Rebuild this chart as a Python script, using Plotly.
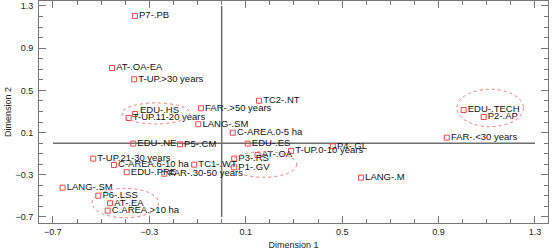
import plotly.graph_objects as go

labels = ["P7-.PB", "AT-.OA-EA", "T-UP.>30 years", "EDU-.HS", "T-UP.11-20 years",
          "FAR-.>50 years", "TC2-.NT", "LANG-.SM", "C-AREA.0-5 ha", "EDU-.NE",
          "P5-.CM", "EDU-.ES", "AT-.OA", "P3-.RS", "P1-.GV",
          "T-UP.0-10 years", "P4-.GL", "LANG-.M", "TC1-.WT", "FAR-.30-50 years",
          "EDU-.PRE", "T-UP.21-30 years", "C-AREA.6-10 ha", "LANG-.SM", "P6-.LSS",
          "AT-.EA", "C.AREA.>10 ha", "EDU-.TECH", "P2-.AP", "FAR-.<30 years"]
dim1 = [-0.360, -0.455, -0.363, -0.360, -0.386,
        -0.086, 0.155, -0.097, 0.046, -0.367,
        -0.173, 0.108, 0.149, 0.052, 0.052,
        0.288, 0.461, 0.578, -0.114, -0.238,
        -0.394, -0.533, -0.447, -0.660, -0.512,
        -0.463, -0.473, 1.004, 1.087, 0.934]
dim2 = [1.205, 0.712, 0.605, 0.276, 0.238,
        0.330, 0.402, 0.179, 0.099, -0.005,
        -0.011, -0.005, -0.112, -0.147, -0.229,
        -0.074, -0.030, -0.327, -0.204, -0.290,
        -0.276, -0.147, -0.207, -0.422, -0.498,
        -0.570, -0.640, 0.314, 0.248, 0.052]
tick_vals = [-0.7, -0.3, 0.1, 0.5, 0.9, 1.3]
tick_text = ["−0.7", "−0.3", "0.1", "0.5", "0.9", "1.3"]

RED = "#e8474a"
FONT = "Liberation Sans, Arial"
LABEL_SIZE = 9.5
raised = {"EDU-.HS"}  # label drawn slightly above its marker

fig = go.Figure()
# reference axes through the origin
fig.add_trace(go.Scatter(x=[tick_vals[0], tick_vals[-1]], y=[0, 0], mode="lines",
                         line=dict(color="#6e6e6e", width=1.5), hoverinfo="skip", showlegend=False))
fig.add_trace(go.Scatter(x=[0, 0], y=[tick_vals[0], tick_vals[-1]], mode="lines",
                         line=dict(color="#6e6e6e", width=1.5), hoverinfo="skip", showlegend=False))
fig.add_trace(go.Scatter(x=dim1, y=dim2, mode="markers+text",
                         text=["" if l in raised else l for l in labels],
                         textposition="middle right",
                         textfont=dict(family=FONT, size=LABEL_SIZE, color="#111111"),
                         marker=dict(symbol="square-open", size=5, color=RED, line=dict(width=1)),
                         showlegend=False))
for l, x, y in zip(labels, dim1, dim2):
    if l in raised:
        fig.add_annotation(x=x, y=y, text=l, showarrow=False, xanchor="left", yanchor="middle",
                           xshift=3, yshift=5,
                           font=dict(family=FONT, size=LABEL_SIZE, color="#111111"))

# dotted ellipses around clusters: (x0, x1, y0, y1)
ellipses = [(-0.414, -0.132, 0.182, 0.381),
            (0.976, 1.252, 0.156, 0.510),
            (0.034, 0.311, -0.324, -0.081),
            (-0.538, -0.262, -0.707, -0.428)]
for x0, x1, y0, y1 in ellipses:
    fig.add_shape(type="circle", xref="x", yref="y", x0=x0, x1=x1, y0=y0, y1=y1,
                  line=dict(color="#f07a7a", width=1, dash="dot"))

axis_common = dict(
    tickmode="array", tickvals=tick_vals, ticktext=tick_text,
    ticks="inside", ticklen=7, tickwidth=1, tickcolor="#777777",
    showline=True, linecolor="#777777", linewidth=1, mirror="ticks",
    showgrid=False, zeroline=False, automargin=False,
    minor=dict(ticks="inside", ticklen=4, tickcolor="#777777", dtick=0.1, tick0=-0.7, showgrid=False),
    tickfont=dict(family=FONT, size=9, color="#222222"),
)
fig.update_xaxes(**axis_common, range=[-0.758, 1.354],
                 title=dict(text="Dimension 1", standoff=5,
                            font=dict(family=FONT, size=9, color="#222222")))
fig.update_yaxes(**axis_common, range=[-0.757, 1.347], ticklabelstandoff=3,
                 title=dict(text="Dimension 2", standoff=2,
                            font=dict(family=FONT, size=9, color="#222222")))
fig.update_layout(width=552, height=251, margin=dict(l=39, r=4, t=1, b=28),
                  plot_bgcolor="white", paper_bgcolor="white")
fig.write_html("out.html", config={"displayModeBar": False},
               post_script="document.body.style.margin='0';document.body.style.overflow='hidden';")
